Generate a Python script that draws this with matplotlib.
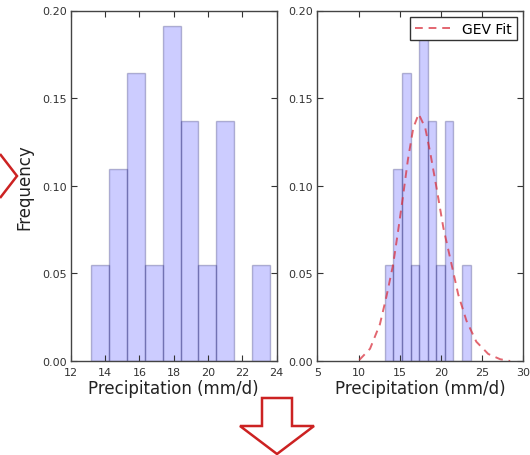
import numpy as np
import matplotlib
matplotlib.use("Agg")
import matplotlib.pyplot as plt
from matplotlib.patches import Polygon

# histogram bins (mm/d) and normalised frequencies
bin_edges = [13.2, 14.24, 15.28, 16.32, 17.36, 18.4, 19.44, 20.48, 21.52, 22.56, 23.6]
freqs = [0.0548, 0.1093, 0.1644, 0.0548, 0.1914, 0.1369, 0.0548, 0.1369, 0.0, 0.0548]

# GEV fit curve
gev_x = [10.1, 11.4, 12.6, 13.4, 14.2, 14.8, 15.4, 16.0, 16.65, 17.3, 18.1,
         18.7, 19.5, 20.3, 21.3, 22.1, 23.1, 24.3, 25.75, 27.2, 28.4]
gev_y = [0.0006, 0.007, 0.021, 0.037, 0.055, 0.074, 0.094, 0.115, 0.133, 0.141, 0.133,
         0.119, 0.098, 0.076, 0.055, 0.038, 0.023, 0.011, 0.004, 0.001, 0.0]

left_xticks = [12, 14, 16, 18, 20, 22, 24]
right_xticks = [5, 10, 15, 20, 25, 30]
yticks = [0.0, 0.05, 0.10, 0.15, 0.20]

W, H = 530, 456
fig = plt.figure(figsize=(W / 100, H / 100), dpi=100)
fig.patch.set_facecolor('white')

top, bot = 11.5, 362.0
ax1 = fig.add_axes([70.7 / W, 1 - bot / H, 206 / W, (bot - top) / H])
ax2 = fig.add_axes([317.3 / W, 1 - bot / H, 206 / W, (bot - top) / H])

lefts = np.array(bin_edges[:-1])
widths = np.diff(bin_edges)

for ax, xlim, xt in [(ax1, (12, 24), left_xticks), (ax2, (5, 30), right_xticks)]:
    ax.bar(lefts, freqs, width=widths, align='edge', color=(0, 0, 1, 0.2),
           edgecolor=(0, 0, 0.3, 0.25), linewidth=1.0)
    ax.set_xlim(*xlim)
    ax.set_ylim(0, 0.2)
    ax.set_xticks(xt)
    ax.set_yticks(yticks)
    ax.set_yticklabels(['%.2f' % v for v in yticks])
    ax.tick_params(direction='in', top=True, right=True, length=4, width=0.8,
                   labelsize=8, colors='#333333', pad=3)
    ax.tick_params(axis='x', pad=4)
    for s in ax.spines.values():
        s.set_color('#444444')
        s.set_linewidth(1.0)
    ax.set_xlabel('Precipitation (mm/d)', fontsize=12, color='#222222', labelpad=2)

ax1.set_ylabel('Frequency', fontsize=12, color='#222222', labelpad=6)

ax2.plot(gev_x, gev_y, '--', color=(0.85, 0.2, 0.25), alpha=0.75, linewidth=1.4,
         dashes=(4, 3), label='GEV Fit')
leg = ax2.legend(loc='upper right', fontsize=10, fancybox=False, framealpha=1,
                 borderaxespad=0.45, handlelength=2.6, borderpad=0.35)
leg.get_frame().set_edgecolor('#333333')
leg.get_frame().set_linewidth(1.0)

# red hollow arrows
red = '#cc2222'
def fpts(pts):
    return [(x / W, 1 - y / H) for x, y in pts]

cx = 277
down = [(cx - 15, 399), (cx + 15, 399), (cx + 15, 427), (cx + 37, 427), (cx, 455),
        (cx - 37, 427), (cx - 15, 427)]
fig.add_artist(Polygon(fpts(down), closed=True, fill=False, edgecolor=red,
                       linewidth=1.8, transform=fig.transFigure))
fig.add_artist(Polygon(fpts([(0, 155), (17, 177), (0, 199)]), closed=False, fill=False,
                       edgecolor=red, linewidth=1.8, transform=fig.transFigure))

fig.savefig('out.png', dpi=100)
